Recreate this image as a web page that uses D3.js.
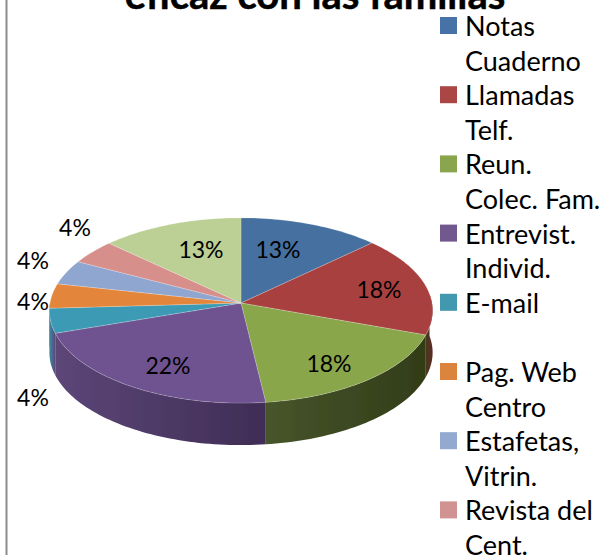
<!DOCTYPE html>
<html>
<head>
<meta charset="utf-8">
<style>
  html, body { margin: 0; padding: 0; background: #fff; overflow: hidden; }
  text { font-family: Lato, "Open Sans", sans-serif; fill: #000; }
</style>
<script src="https://cdnjs.cloudflare.com/ajax/libs/d3/7.8.5/d3.min.js"></script>
</head>
<body>
<script>
const TITLE = "eficaz con las familias";
const categories = ["Notas Cuaderno", "Llamadas Telf.", "Reun. Colec. Fam.", "Entrevist. Individ.", "E-mail",
                    "Pag. Web Centro", "Estafetas, Vitrin.", "Revista del Cent.", "Otros"];
// they print rounded
const percents = [12.9, 17.6, 17.6, 21.7, 4.3, 4.3, 4.3, 4.3, 13];
const legendLines = [["Notas", "Cuaderno"], ["Llamadas", "Telf."], ["Reun.", "Colec. Fam."], ["Entrevist.", "Individ."],
                     ["E-mail", ""], ["Pag. Web", "Centro"], ["Estafetas,", "Vitrin."], ["Revista del", "Cent."]];

const topColors = ["#44709f", "#a9403f", "#8aa64c", "#6e5290", "#3c9ab4", "#e3863a", "#8fa6d0", "#d78f8c", "#bccf94"],
      swatchColors = ["#4672a8", "#aa4643", "#89a54e", "#71588f", "#4198af", "#db843d", "#93a9cf", "#d19392"],
      wallFrom = ["#2f4d70", "#4a3a1c", "#47552a", "#5c4678", "#3a8ba2", "#a8642a", "#6a7b9a", "#a06a68", "#8a9a6c"],
      wallTo = ["#2f4d70", "#5b2a26", "#323c18", "#3f2d55", "#5c4678", "#a8642a", "#6a7b9a", "#a06a68", "#8a9a6c"];

// where the data labels were dropped by hand in the original, in slice order
const labelSpots = [[278, 250], [379, 290], [329, 364], [168, 366], [33, 398], [33, 302], [33, 261], [75, 228], [201, 250]];

const WIDTH = 603,
      HEIGHT = 555,
      CX = 241,
      CY = 303,
      RX = 191,
      RY = 92,
      PERSPECTIVE = 0.081,
      DEPTH = 42,
      LEGEND_X = 440,
      LEGEND_TOP = 36,
      LINE_STEP = 34.6,
      SWATCH = 17;

// tilted disc: the far edge comes out a bit smaller than the near one
function project(a, drop) {
  let z = Math.cos(a),
      s = 1 / (1 + PERSPECTIVE * z);
  return [CX + RX * Math.sin(a) * s, CY - RY * z * s + (drop || 0)];
}

function arcPoints(a0, a1, drop) {
  let n = Math.max(2, Math.ceil((a1 - a0) * 40));
  return d3.range(n + 1).map(i => project(a0 + (a1 - a0) * i / n, drop));
}

const svg = d3.select("body").append("svg")
  .attr("width", WIDTH)
  .attr("height", HEIGHT)
  .style("display", "block");

const defs = svg.append("defs");
defs.append("filter").attr("id", "soft")
  .append("feGaussianBlur").attr("stdDeviation", 0.6);

// frame line on the left
svg.append("line")
  .attr("x1", 6.5).attr("x2", 6.5)
  .attr("y1", 0).attr("y2", HEIGHT)
  .attr("stroke", "#8c8c8c")
  .attr("stroke-width", 2);

svg.append("text")
  .attr("x", 315)
  .attr("y", 9)
  .attr("text-anchor", "middle")
  .attr("font-size", 40)
  .attr("font-weight", 700)
  .attr("stroke", "#000")
  .attr("stroke-width", 0.5)
  .text(TITLE);

const pie = d3.pie().sort(null).value(d => d)(percents);
const line = d3.line();
const pieGroup = svg.append("g").attr("filter", "url(#soft)");

// side wall, only the near half of the disc shows it
pie.forEach((d, i) => {
  let a0 = Math.max(d.startAngle, Math.PI / 2 - 0.1),
      a1 = Math.min(d.endAngle, 3 * Math.PI / 2);
  if (a1 <= a0) return;

  let id = "wall" + i,
      grad = defs.append("linearGradient").attr("id", id);
  grad.append("stop").attr("offset", 0).attr("stop-color", wallFrom[i]);
  grad.append("stop").attr("offset", 1).attr("stop-color", wallTo[i]);

  pieGroup.append("path")
    .attr("d", line(arcPoints(a0, a1, 0).concat(arcPoints(a0, a1, DEPTH).reverse())) + "Z")
    .attr("fill", "url(#" + id + ")");
});

pieGroup.selectAll("path.slice")
  .data(pie)
  .enter().append("path")
  .attr("class", "slice")
  .attr("d", d => line([[CX, CY]].concat(arcPoints(d.startAngle, d.endAngle))) + "Z")
  .attr("fill", (d, i) => topColors[i])
  .attr("stroke", "#fff")
  .attr("stroke-opacity", 0.2)
  .attr("stroke-width", 1);

svg.selectAll("text.pct")
  .data(percents)
  .enter().append("text")
  .attr("class", "pct")
  .attr("x", (d, i) => labelSpots[i][0])
  .attr("y", (d, i) => labelSpots[i][1] + 8)
  .attr("text-anchor", "middle")
  .attr("font-size", 23)
  .text(d => Math.round(d) + "%");

const legend = svg.selectAll("g.entry")
  .data(legendLines)
  .enter().append("g")
  .attr("class", "entry")
  .attr("transform", (d, i) => "translate(" + LEGEND_X + "," + (LEGEND_TOP + i * 2 * LINE_STEP) + ")");

legend.append("rect")
  .attr("y", -19)
  .attr("width", SWATCH)
  .attr("height", SWATCH)
  .attr("fill", (d, i) => swatchColors[i]);

legend.selectAll("text")
  .data(d => d)
  .enter().append("text")
  .attr("x", 25)
  .attr("y", (d, i) => i * LINE_STEP)
  .attr("font-size", 27)
  .text(d => d);
</script>
</body>
</html>
